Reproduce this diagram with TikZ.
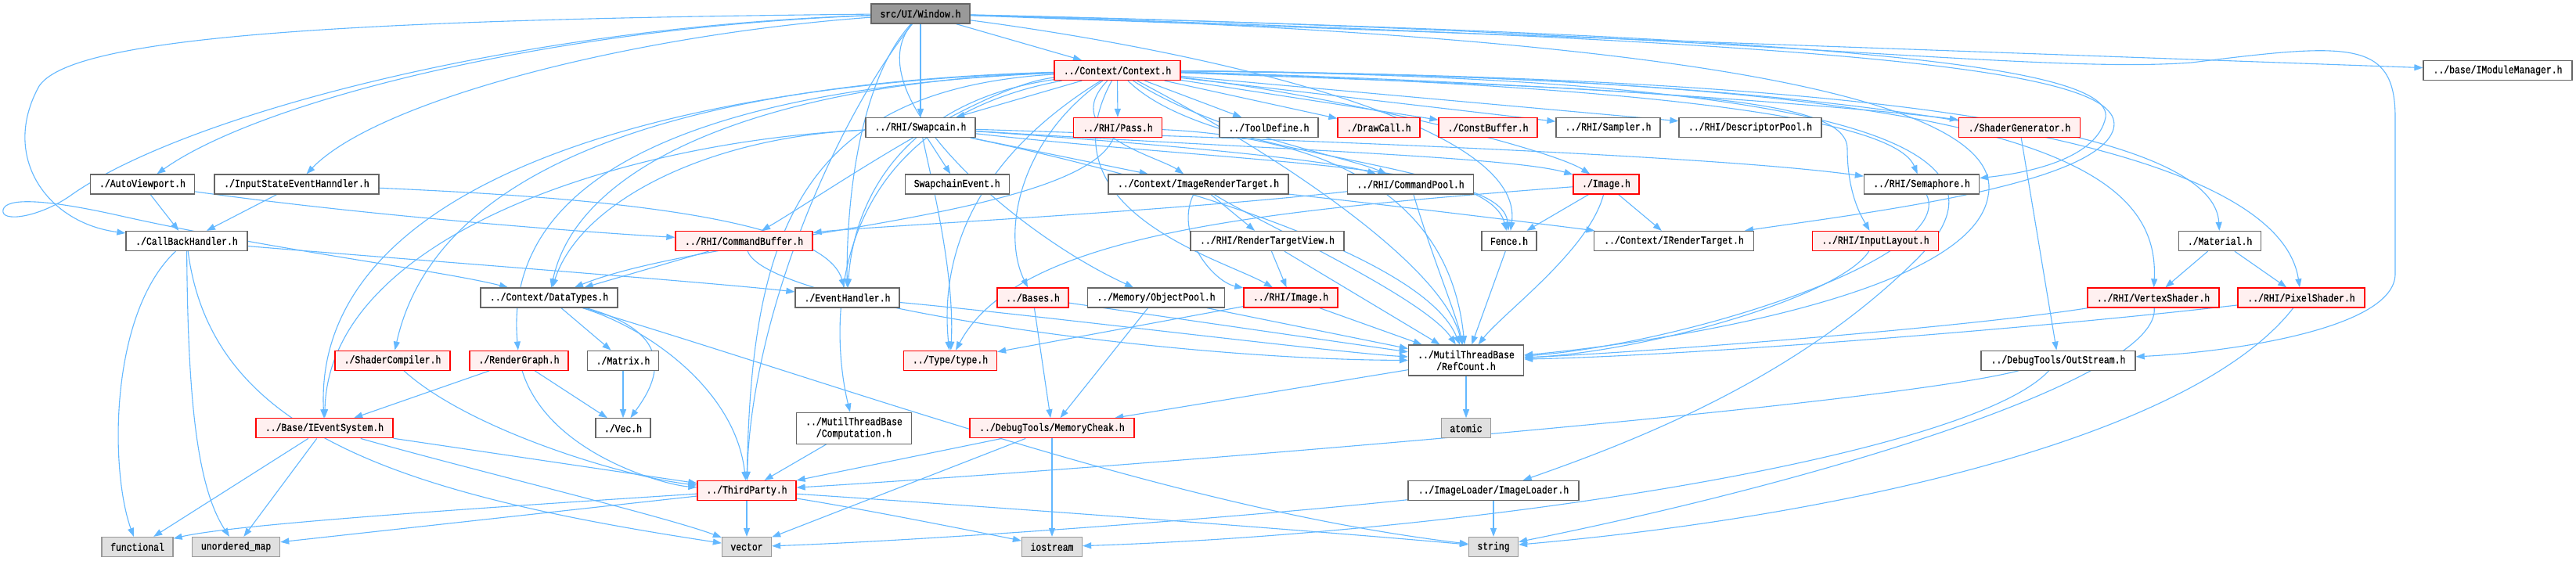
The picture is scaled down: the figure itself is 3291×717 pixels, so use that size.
\documentclass[tikz,border=0pt]{standalone}
\usepackage{fontspec}
\newfontfamily\nodefont[FakeStretch=0.83,FakeBold=0.6]{Liberation Mono}
\usetikzlibrary{arrows.meta}
\definecolor{edgec}{HTML}{63B8FF}
\definecolor{redfill}{HTML}{FFF0F0}
\definecolor{grayfill}{HTML}{E0E0E0}
\definecolor{curfill}{HTML}{999999}
\definecolor{bord}{HTML}{666666}
\definecolor{lbord}{HTML}{999999}
\pgfdeclarelayer{back}
\pgfdeclarelayer{bg}
\pgfsetlayers{back,bg,main}
\begin{document}
\begin{tikzpicture}[x=1pt,y=-1pt,
 box/.style={draw, line width=1.3pt, minimum height=25pt, inner sep=0pt, font=\fontsize{13.8}{15}\selectfont\nodefont, anchor=center},
 wbox/.style={box, fill=white, draw=bord},
 rbox/.style={box, fill=redfill, draw=red},
 gbox/.style={box, fill=grayfill, draw=lbord},
 cbox/.style={box, fill=curfill, draw=bord},
 dep/.style={draw=edgec, line width=1.1pt, -{Triangle[length=11pt,width=8pt]}}]
\begin{pgfonlayer}{back}
\fill[white] (0,0) rectangle (3291,717);
\end{pgfonlayer}
\useasboundingbox (0,0) rectangle (3291,717);

\node[cbox, minimum width=126] (win) at (1176,17.5) {src/UI/Window.h};
\node[rbox, minimum width=161] (ctx) at (1427.5,90) {../Context/Context.h};
\node[wbox, minimum width=190] (imod) at (3191,90) {../base/IModuleManager.h};
\node[wbox, minimum width=140] (swap) at (1176,163) {../RHI/Swapcain.h};
\node[rbox, minimum width=113] (pass) at (1428,163) {../RHI/Pass.h};
\node[wbox, minimum width=126] (tool) at (1621,163) {../ToolDefine.h};
\node[rbox, minimum width=105] (drawc) at (1761.5,163) {./DrawCall.h};
\node[rbox, minimum width=126] (constb) at (1901,163) {./ConstBuffer.h};
\node[wbox, minimum width=133] (samp) at (2054.5,163) {../RHI/Sampler.h};
\node[wbox, minimum width=182] (desc) at (2236,163) {../RHI/DescriptorPool.h};
\node[rbox, minimum width=155] (sgen) at (2580,163) {./ShaderGenerator.h};
\node[wbox, minimum width=133] (autov) at (182,235.5) {./AutoViewport.h};
\node[wbox, minimum width=210] (input) at (379,235.5) {./InputStateEventHanndler.h};
\node[wbox, minimum width=133] (sevt) at (1222.7,235.5) {SwapchainEvent.h};
\node[wbox, minimum width=230] (irt) at (1531,235.5) {../Context/ImageRenderTarget.h};
\node[wbox, minimum width=161] (cpool) at (1802,235.5) {../RHI/CommandPool.h};
\node[rbox, minimum width=84] (img) at (2052,235.5) {./Image.h};
\node[wbox, minimum width=147] (sema) at (2455,235.5) {../RHI/Semaphore.h};
\node[wbox, minimum width=155] (cbh) at (238.5,308) {./CallBackHandler.h};
\node[rbox, minimum width=175] (cmdbuf) at (950.5,308) {../RHI/CommandBuffer.h};
\node[wbox, minimum width=196] (rtv) at (1619,308) {../RHI/RenderTargetView.h};
\node[wbox, minimum width=70] (fence) at (1928,308) {Fence.h};
\node[wbox, minimum width=204] (irtg) at (2138.5,308) {../Context/IRenderTarget.h};
\node[rbox, minimum width=161] (inlay) at (2396,308) {../RHI/InputLayout.h};
\node[wbox, minimum width=105] (mat) at (2836,308) {./Material.h};
\node[wbox, minimum width=175] (dtypes) at (701.5,380.5) {../Context/DataTypes.h};
\node[wbox, minimum width=133] (evh) at (1082.5,380.5) {./EventHandler.h};
\node[rbox, minimum width=91] (bases) at (1319.5,380.5) {../Bases.h};
\node[wbox, minimum width=175] (opool) at (1477,380.5) {../Memory/ObjectPool.h};
\node[rbox, minimum width=120] (rimg) at (1649,380.5) {../RHI/Image.h};
\node[rbox, minimum width=168] (vs) at (2751,380.5) {../RHI/VertexShader.h};
\node[rbox, minimum width=162] (ps) at (2940,380.5) {../RHI/PixelShader.h};
\node[rbox, minimum width=147] (scomp) at (501.5,460.7) {./ShaderCompiler.h};
\node[rbox, minimum width=126] (rgraph) at (663,460.7) {./RenderGraph.h};
\node[wbox, minimum width=91] (matrix) at (796,460.7) {./Matrix.h};
\node[rbox, minimum width=119] (type) at (1214,460.7) {../Type/type.h};
\node[wbox, minimum width=147, minimum height=39, align=center] (refc) at (1873,460.5) {../MutilThreadBase\\/RefCount.h};
\node[wbox, minimum width=197] (outs) at (2629.5,460.7) {../DebugTools/OutStream.h};
\node[rbox, minimum width=175] (ievt) at (414.5,547.3) {../Base/IEventSystem.h};
\node[wbox, minimum width=70] (vec) at (796,547.3) {./Vec.h};
\node[wbox, minimum width=147, minimum height=40, align=center] (comp) at (1091,547.3) {../MutilThreadBase\\/Computation.h};
\node[rbox, minimum width=210] (mcheck) at (1344,547.3) {../DebugTools/MemoryCheak.h};
\node[gbox, minimum width=63] (atomic) at (1873,547.3) {atomic};
\node[rbox, minimum width=126] (third) at (954,627) {../ThirdParty.h};
\node[wbox, minimum width=218] (imgl) at (1908,627) {../ImageLoader/ImageLoader.h};
\node[gbox, minimum width=91] (func) at (175.5,699) {functional};
\node[gbox, minimum width=112] (umap) at (301.6,699) {unordered\_map};
\node[gbox, minimum width=63] (vector) at (954,699) {vector};
\node[gbox, minimum width=77] (iostr) at (1344,699) {iostream};
\node[gbox, minimum width=63] (string) at (1908,699) {string};

\begin{pgfonlayer}{bg}
% Window.h
\draw[dep] (win) -- (ctx);
\draw[dep] (win) -- (swap);
\draw[dep] (win) .. controls (700,35) and (330,130) .. (autov);
\draw[dep] (win) .. controls (800,45) and (480,130) .. (input);
\draw[dep] (win) .. controls (400,25) and (90,50) .. (50,110) .. controls (0,200) and (60,285) .. (cbh);
\draw[dep] (win) .. controls (650,35) and (230,150) .. (90,250) .. controls (50,278) and (0,285) .. (4,268) .. controls (8,252) and (60,255) .. (150,275) .. controls (350,320) and (560,345) .. (dtypes);
\draw[dep] (win) -- (imod);
\draw[dep] (win) .. controls (2300,45) and (2700,80) .. (2690,150) .. controls (2680,200) and (2600,220) .. (sema);
\draw[dep] (win) .. controls (2400,55) and (2720,90) .. (2700,165) .. controls (2680,235) and (2400,270) .. (irtg);
\draw[dep] (win) .. controls (2200,40) and (2600,95) .. (2800,80) .. controls (3000,55) and (3060,50) .. (3060,150) -- (3060,350) .. controls (3060,420) and (2850,450) .. (outs);
\draw[dep] (win) .. controls (1100,100) and (1081,250) .. (evh);
\draw[dep] (win) .. controls (1090,120) and (1300,300) .. (opool);
\draw[dep] (win) .. controls (1070,150) and (960,400) .. (third);
\draw[dep] (win) .. controls (2300,50) and (2560,150) .. (2540,250) .. controls (2520,380) and (2100,440) .. (refc);
\draw[dep] (win) .. controls (1500,60) and (1950,150) .. (fence);
% Context.h
\draw[dep] (ctx) -- (swap);
\draw[dep] (ctx) -- (pass);
\draw[dep] (ctx) -- (tool);
\draw[dep] (ctx) -- (drawc);
\draw[dep] (ctx) -- (constb);
\draw[dep] (ctx) -- (samp);
\draw[dep] (ctx) -- (desc);
\draw[dep] (ctx) .. controls (2000,105) and (2400,140) .. (sgen);
\draw[dep] (ctx) .. controls (2100,110) and (2420,150) .. (sema);
\draw[dep] (ctx) .. controls (2100,115) and (2360,120) .. (2360,190) .. controls (2360,250) and (2380,280) .. (inlay);
\draw[dep] (ctx) .. controls (2600,100) and (2830,200) .. (mat);
\draw[dep] (ctx) .. controls (2550,100) and (2760,200) .. (vs);
\draw[dep] (ctx) .. controls (2700,100) and (2920,250) .. (ps);
\draw[dep] (ctx) .. controls (2500,100) and (2560,220) .. (2450,330) .. controls (2300,480) and (2100,560) .. (imgl);
\draw[dep] (ctx) .. controls (1700,120) and (1980,190) .. (img);
\draw[dep] (ctx) .. controls (1550,210) and (1900,200) .. (fence);
\draw[dep] (ctx) .. controls (1550,170) and (1720,200) .. (cpool);
\draw[dep] (ctx) .. controls (1350,170) and (1480,200) .. (irt);
\draw[dep] (ctx) .. controls (1000,105) and (740,200) .. (dtypes);
\draw[dep] (ctx) .. controls (900,105) and (560,200) .. (scomp);
\draw[dep] (ctx) .. controls (950,110) and (640,200) .. (rgraph);
\draw[dep] (ctx) .. controls (800,110) and (400,250) .. (ievt);
\draw[dep] (ctx) .. controls (1020,115) and (960,300) .. (third);
\draw[dep] (ctx) .. controls (1250,200) and (1200,320) .. (type);
\draw[dep] (ctx) .. controls (1300,180) and (1280,300) .. (bases);
\draw[dep] (ctx) .. controls (1330,270) and (1560,330) .. (rimg);
\draw[dep] (ctx) .. controls (1050,160) and (1060,420) .. (comp);
\draw[dep] (ctx) .. controls (1600,180) and (1840,330) .. (refc);
\draw[dep] (ctx) .. controls (1150,130) and (1090,260) .. (evh);
\draw[dep] (ctx) .. controls (1250,110) and (1050,250) .. (cmdbuf);
% Swapcain.h
\draw[dep] (swap) -- (sevt);
\draw[dep] (swap) -- (irt);
\draw[dep] (swap) .. controls (1500,185) and (1700,205) .. (cpool);
\draw[dep] (swap) .. controls (1600,190) and (1930,200) .. (img);
\draw[dep] (swap) .. controls (1600,210) and (1920,210) .. (fence);
\draw[dep] (swap) .. controls (1700,180) and (2200,200) .. (sema);
\draw[dep] (swap) .. controls (1500,230) and (1820,330) .. (refc);
\draw[dep] (swap) .. controls (800,180) and (420,300) .. (ievt);
\draw[dep] (swap) .. controls (1190,230) and (1220,350) .. (type);
\draw[dep] (swap) .. controls (900,175) and (740,260) .. (dtypes);
% Pass.h
\draw[dep] (pass) .. controls (1380,280) and (900,300) .. (dtypes);
\draw[dep] (pass) .. controls (1800,180) and (1860,330) .. (refc);
% ImageRenderTarget
\draw[dep] (irt) -- (rtv);
\draw[dep] (irt) .. controls (1800,265) and (2000,290) .. (irtg);
\draw[dep] (irt) .. controls (1600,280) and (1820,380) .. (refc);
\draw[dep] (irt) .. controls (1500,300) and (1550,360) .. (rimg);
% CommandPool
\draw[dep] (cpool) .. controls (1500,270) and (1100,290) .. (cmdbuf);
\draw[dep] (cpool) .. controls (1830,330) and (1860,400) .. (refc);
% Image.h
\draw[dep] (img) -- (fence);
\draw[dep] (img) -- (irtg);
\draw[dep] (img) .. controls (2030,320) and (1920,400) .. (refc);
\draw[dep] (img) .. controls (1600,270) and (1300,300) .. (type);
% others
\draw[dep] (rtv) -- (rimg);
\draw[dep] (rtv) -- (refc);
\draw[dep] (fence) -- (refc);
\draw[dep] (sema) .. controls (2500,330) and (2150,440) .. (refc);
\draw[dep] (inlay) .. controls (2350,380) and (2100,450) .. (refc);
\draw[dep] (mat) -- (vs);
\draw[dep] (mat) -- (ps);
\draw[dep] (vs) .. controls (2500,420) and (2100,450) .. (refc);
\draw[dep] (vs) .. controls (2760,480) and (2350,610) .. (string);
\draw[dep] (ps) .. controls (2600,420) and (2150,455) .. (refc);
\draw[dep] (ps) .. controls (2800,560) and (2350,660) .. (string);
\draw[dep] (sgen) -- (outs);
\draw[dep] (outs) .. controls (2400,520) and (1400,600) .. (third);
\draw[dep] (outs) .. controls (2520,580) and (1900,680) .. (iostr);
\draw[dep] (cmdbuf) -- (dtypes);
\draw[dep] (cmdbuf) .. controls (980,390) and (1500,460) .. (refc);
\draw[dep] (cbh) .. controls (140,400) and (140,600) .. (func);
\draw[dep] (cbh) .. controls (240,500) and (250,620) .. (umap);
\draw[dep] (cbh) .. controls (270,550) and (500,630) .. (vector);
\draw[dep] (cbh) .. controls (500,330) and (900,360) .. (evh);
\draw[dep] (input) -- (cbh);
\draw[dep] (input) .. controls (700,250) and (1050,270) .. (evh);
\draw[dep] (autov) -- (cbh);
\draw[dep] (autov) .. controls (500,280) and (800,300) .. (cmdbuf);
\draw[dep] (evh) .. controls (1300,400) and (1700,450) .. (refc);
\draw[dep] (dtypes) -- (matrix);
\draw[dep] (dtypes) .. controls (880,430) and (830,500) .. (vec);
\draw[dep] (dtypes) .. controls (830,420) and (940,500) .. (third);
\draw[dep] (dtypes) .. controls (1100,500) and (1500,650) .. (string);
\draw[dep] (matrix) -- (vec);
\draw[dep] (scomp) .. controls (600,550) and (800,610) .. (third);
\draw[dep] (rgraph) -- (ievt);
\draw[dep] (rgraph) -- (vec);
\draw[dep] (rgraph) .. controls (700,580) and (850,620) .. (third);
\draw[dep] (ievt) -- (func);
\draw[dep] (ievt) -- (umap);
\draw[dep] (ievt) -- (third);
\draw[dep] (ievt) .. controls (600,600) and (850,660) .. (vector);
\draw[dep] (comp) -- (third);
\draw[dep] (third) .. controls (600,650) and (300,670) .. (func);
\draw[dep] (third) -- (umap);
\draw[dep] (third) -- (vector);
\draw[dep] (third) .. controls (1100,650) and (1250,680) .. (iostr);
\draw[dep] (third) .. controls (1300,650) and (1700,680) .. (string);
\draw[dep] (bases) -- (mcheck);
\draw[dep] (bases) -- (refc);
\draw[dep] (opool) -- (mcheck);
\draw[dep] (opool) -- (refc);
\draw[dep] (rimg) -- (type);
\draw[dep] (rimg) -- (refc);
\draw[dep] (refc) -- (mcheck);
\draw[dep] (refc) -- (atomic);
\draw[dep] (mcheck) -- (third);
\draw[dep] (mcheck) -- (vector);
\draw[dep] (mcheck) -- (iostr);
\draw[dep] (imgl) -- (string);
\draw[dep] (imgl) .. controls (1600,660) and (1200,690) .. (vector);
\end{pgfonlayer}
\end{tikzpicture}
\end{document}
